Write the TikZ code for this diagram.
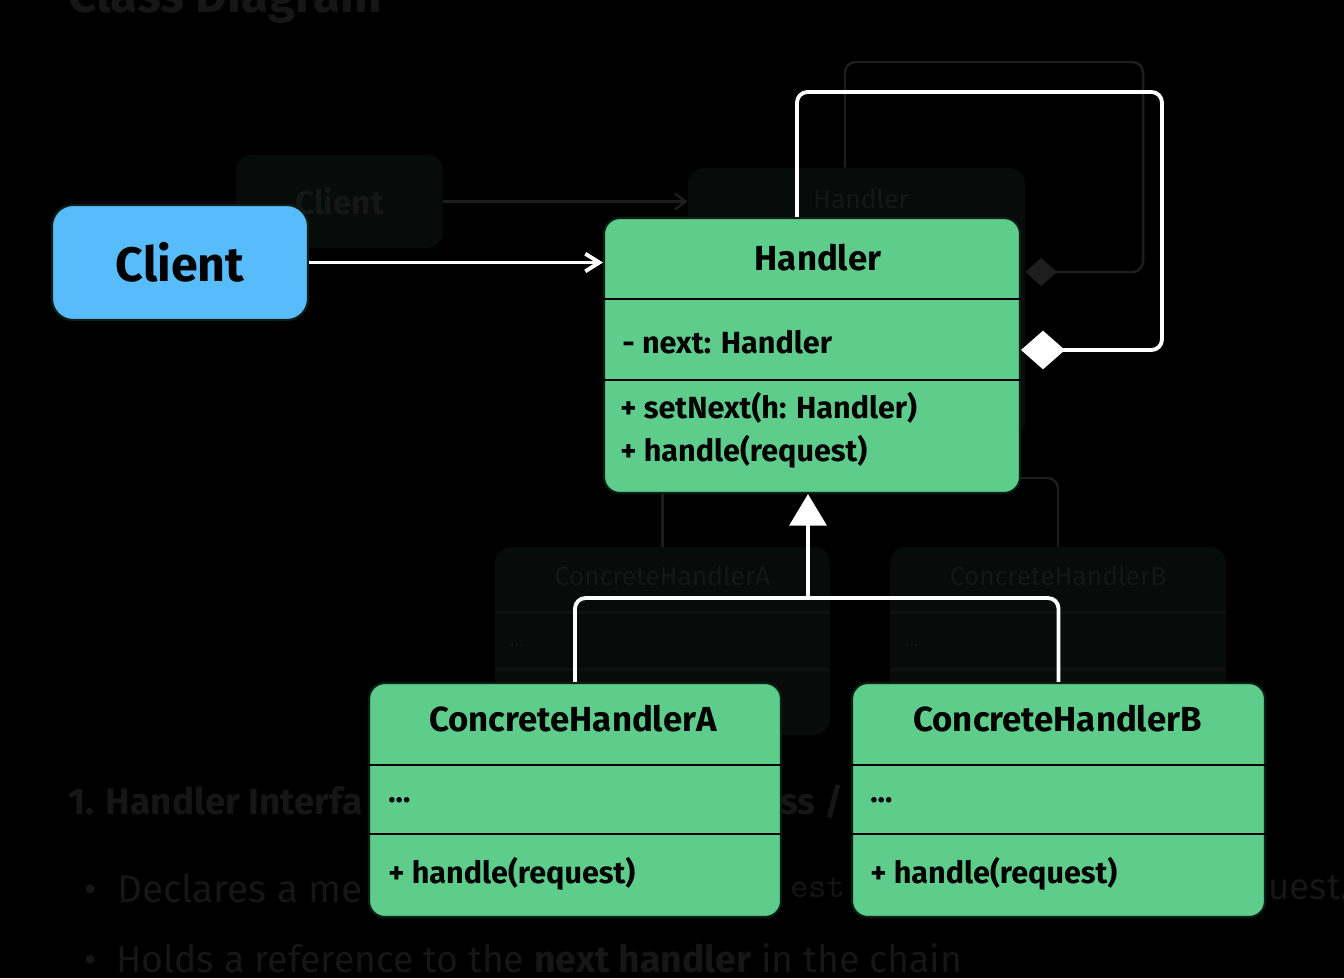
\documentclass[tikz,border=0pt]{standalone}
\usepackage{fontspec}
\setmainfont{Fira Sans}
\usetikzlibrary{arrows.meta,calc}
\definecolor{umlgreen}{HTML}{5ECD8B}
\definecolor{umlblue}{HTML}{57BCF9}
\definecolor{boxline}{HTML}{0B1F16}
\definecolor{ghostfill}{HTML}{070B0A}
\definecolor{ghosttext}{HTML}{161616}
\definecolor{ghostline}{HTML}{1E1E1E}
\definecolor{ghostsep}{HTML}{111111}
\tikzset{
  classbox/.style={draw=boxline,line width=1.2pt,fill=umlgreen,rounded corners=9pt,inner sep=0pt},
  clientbox/.style={draw=boxline,line width=1.2pt,fill=umlblue,rounded corners=12pt,inner sep=0pt},
  divider/.style={black,line width=1.6pt},
  wire/.style={white,line width=2.2pt},
  classname/.style={font=\bfseries\fontsize{19.8}{23}\selectfont,inner sep=0pt},
  member/.style={font=\bfseries\fontsize{17.4}{21}\selectfont,anchor=west,inner sep=0pt},
  ghostbox/.style={fill=ghostfill,rounded corners=9pt,inner sep=0pt},
  ghostlabel/.style={text=ghosttext,font=\fontsize{15}{18}\selectfont,inner sep=0pt},
  ghostwire/.style={ghostline,line width=1.4pt},
}
\begin{document}
\begin{tikzpicture}[x=0.02cm,y=-0.02cm]
\fill[black] (0,0) rectangle (1344,978);
\useasboundingbox (0,0) rectangle (1344,978);

% faint copy behind the diagram
\node[ghostlabel,font=\bfseries\fontsize{28}{32}\selectfont,anchor=base west] at (68,12) (gTitle) {Class Diagram};
\node[ghostbox,minimum width=4.14cm,minimum height=1.86cm] at (339.5,201.5) (gClient) {};
\node[ghostlabel,font=\bfseries\fontsize{19}{22}\selectfont] at (gClient) (gClientName) {Client};
\node[ghostbox,minimum width=6.74cm,minimum height=5.4cm] at (856.5,303) (gHandler) {};
\node[ghostlabel] at (861,199) (gHandlerName) {Handler};
\draw[ghostwire,-{Straight Barb[length=6pt,width=9pt]}] (gClient.east) -- (gClient.east -| gHandler.west);
\draw[ghostwire,rounded corners=6pt,-{Diamond[length=18pt,width=16pt]}] ($(gHandler.north)+(-11.5,0)$) |- (1143,62) |- ($(gHandler.east)+(0,-31)$);

\node[ghostbox,minimum width=6.7cm,minimum height=3.76cm] at (662.5,641) (gCHA) {};
\node[ghostbox,minimum width=6.72cm,minimum height=3.76cm] at (1058,641) (gCHB) {};
\foreach \b in {gCHA,gCHB} {
  \draw[ghostsep,line width=1.4pt] ($(\b.north west)+(0,66)$) -- ($(\b.north east)+(0,66)$);
  \draw[ghostsep,line width=1.4pt] ($(\b.north west)+(0,123)$) -- ($(\b.north east)+(0,123)$);
}
\node[ghostlabel] at ($(gCHA.north)+(0,29)$) (gCHAName) {ConcreteHandlerA};
\node[ghostlabel] at ($(gCHB.north)+(0,29)$) (gCHBName) {ConcreteHandlerB};
\node[ghostlabel,anchor=west,font=\fontsize{10}{12}\selectfont] at (510,645) (gCHAAttr) {...};
\node[ghostlabel,anchor=west,font=\fontsize{10}{12}\selectfont] at (905,645) (gCHBAttr) {...};
\draw[ghostwire] (gCHA.north |- gHandler.south) -- (gCHA.north);
\draw[ghostwire,rounded corners=6pt] ($(gHandler.east)+(-5,175)$) -| (gCHB.north);

\node[ghostlabel,font=\bfseries\fontsize{21}{24}\selectfont,anchor=west] at (68,801) (gHead) {1. Handler Interfa};
\node[ghostlabel,font=\bfseries\fontsize{21}{24}\selectfont,anchor=west] at (780,801) (gHeadEnd) {ss /};
\node[ghostlabel,font=\fontsize{22}{26}\selectfont,anchor=west] at (84,888) (gDecl) {\textbullet\ \ Declares a me};
\node[ghostlabel,font=\ttfamily\fontsize{20}{24}\selectfont,anchor=west] at (790,888) (gDeclMid) {est};
\node[ghostlabel,font=\fontsize{21}{24}\selectfont,anchor=west] at (1268,888) (gDeclEnd) {uest.};
\node[ghostlabel,font=\fontsize{21.3}{25}\selectfont,anchor=west] at (84,958) (gHolds) {\textbullet\ \ Holds a reference to the \textbf{next handler} in the chain};

% client
\node[clientbox,minimum width=5.12cm,minimum height=2.3cm,font=\bfseries\fontsize{27.5}{32}\selectfont] at (180,262.5) (Client) {Client};

% handler
\node[classbox,minimum width=8.32cm,minimum height=5.5cm] at (812,355.5) (Handler) {};
\draw[divider] ($(Handler.north west)+(0,82)$) -- ($(Handler.north east)+(0,82)$);
\draw[divider] ($(Handler.north west)+(0,163)$) -- ($(Handler.north east)+(0,163)$);
\node[classname] at ($(Handler.north)+(6,41)$) (HandlerName) {Handler};
\node[member] at (622,342) (hNext) {- next: Handler};
\node[member] at (620,408) (hSetNext) {+ setNext(h: Handler)};
\node[member] at (620,452) (hHandle) {+ handle(request)};

\draw[wire,-{Straight Barb[length=8pt,width=10pt]}] (Client.east) -- (Client.east -| Handler.west);
\draw[wire,rounded corners=6pt,-{Diamond[length=25pt,width=22pt]}] ($(Handler.north)+(-15,0)$) |- (1162,92) |- ($(Handler.east)+(0,-5.5)$);

% concrete handlers
\node[classbox,minimum width=8.24cm,minimum height=4.68cm] at (575,800) (CHA) {};
\node[classbox,minimum width=8.26cm,minimum height=4.68cm] at (1058.5,800) (CHB) {};
\foreach \b in {CHA,CHB} {
  \draw[divider] ($(\b.north west)+(0,83)$) -- ($(\b.north east)+(0,83)$);
  \draw[divider] ($(\b.north west)+(0,152)$) -- ($(\b.north east)+(0,152)$);
}
\node[classname] at ($(CHA.north)+(-2,37)$) (CHAName) {ConcreteHandlerA};
\node[member] at (388,800) (chaAttr) {...};
\node[member] at (388,874) (chaHandle) {+ handle(request)};
\node[classname] at ($(CHB.north)+(-1,37)$) (CHBName) {ConcreteHandlerB};
\node[member] at (870,800) (chbAttr) {...};
\node[member] at (870,874) (chbHandle) {+ handle(request)};

\coordinate (fork) at (808,598);
\draw[wire,rounded corners=6pt] (CHA.north) |- (fork) -| (CHB.north);
\draw[wire,-{Triangle[length=18pt,width=21pt]}] (fork) -- (fork |- Handler.south);
\end{tikzpicture}
\end{document}
